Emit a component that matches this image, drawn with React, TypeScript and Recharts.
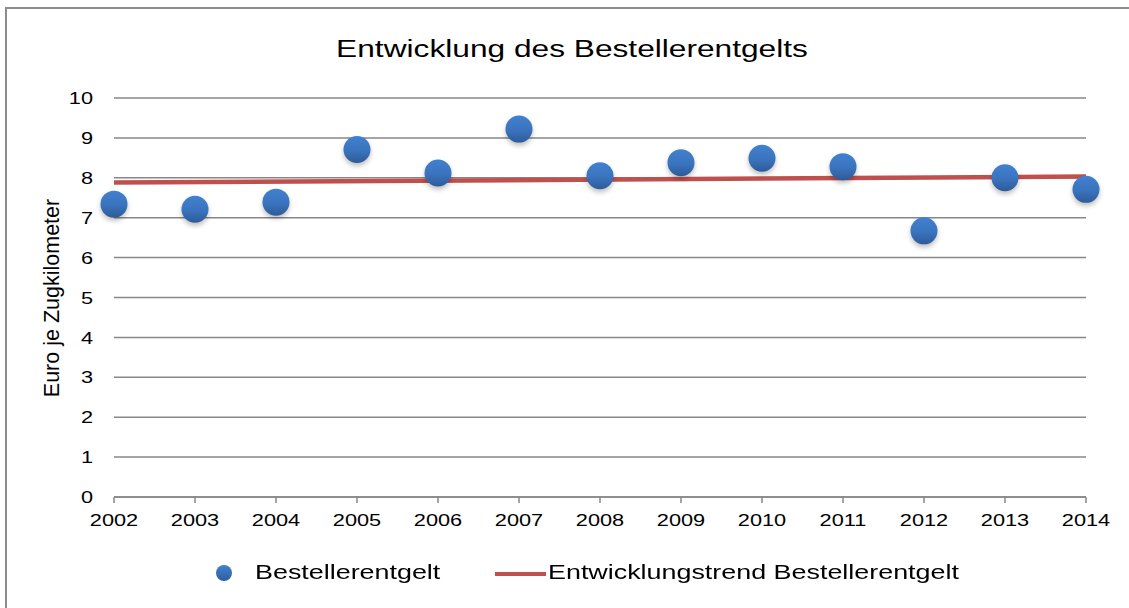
import { ComposedChart, Scatter, Line, XAxis, YAxis, CartesianGrid, Legend } from 'recharts';

const years = [2002, 2003, 2004, 2005, 2006, 2007, 2008, 2009, 2010, 2011, 2012, 2013, 2014];
const entgelt = [7.34, 7.21, 7.39, 8.71, 8.12, 9.22, 8.05, 8.38, 8.49, 8.28, 6.67, 8.0, 7.71];
const trendYears = [2002, 2014];
const trendValues = [7.88, 8.03];
const yTicks = [0, 1, 2, 3, 4, 5, 6, 7, 8, 9, 10];

const title = 'Entwicklung des Bestellerentgelts';
const yLabel = 'Euro je Zugkilometer';
const seriesName = 'Bestellerentgelt';
const trendName = 'Entwicklungstrend Bestellerentgelt';

const pointData = years.map((year, i) => ({ year, v: entgelt[i] }));
const trendData = trendYears.map((year, i) => ({ year, v: trendValues[i] }));

const GRID = '#878787';
const BLUE = '#3a73bd';
const RED = '#c0504d';
const FONT = '"Liberation Sans", Arial, sans-serif';
const STRETCH = 1.28;

// the reference is squeezed horizontally, so the texts are stretched a bit
const XTick = ({ x, y, payload }: any) => (
    <text
        transform={`translate(${x} ${y}) scale(${STRETCH} 1)`}
        textAnchor="middle"
        dy="0.71em"
        fontSize={17}
        fontFamily={FONT}
        fill="#000"
    >
        {payload.value}
    </text>
);

const YTick = ({ x, y, payload }: any) => (
    <text
        transform={`translate(${x} ${y}) scale(${STRETCH} 1)`}
        textAnchor="end"
        dy="0.36em"
        fontSize={17}
        fontFamily={FONT}
        fill="#000"
    >
        {payload.value}
    </text>
);

const Ball = ({ cx, cy }: any) => {
    if (cx == null || cy == null) return null;
    return (
        <g>
            <circle cx={cx} cy={cy + 3} r={13.5} fill="#000" opacity={0.25} filter="url(#ballShadow)" />
            <circle cx={cx} cy={cy} r={13.5} fill="url(#ballFill)" />
        </g>
    );
};

const LegendContent = () => (
    <div style={{ position: 'relative', height: 30, fontFamily: FONT, fontSize: 21, color: '#000' }}>
        <svg width={20} height={20} style={{ position: 'absolute', left: 214, top: 7 }}>
            <circle cx={10} cy={10} r={8} fill="url(#ballFillLegend)" />
            <defs>
                <linearGradient id="ballFillLegend" x1="0" y1="0" x2="0" y2="1">
                    <stop offset="0%" stopColor="#4181d0" />
                    <stop offset="100%" stopColor="#2f5e9c" />
                </linearGradient>
            </defs>
        </svg>
        <span style={{ position: 'absolute', left: 255, top: 4, whiteSpace: 'nowrap', transform: `scaleX(${STRETCH})`, transformOrigin: 'left center' }}>
            {seriesName}
        </span>
        <div style={{ position: 'absolute', left: 495, top: 16, width: 51, height: 4, background: RED }} />
        <span style={{ position: 'absolute', left: 548, top: 4, whiteSpace: 'nowrap', transform: `scaleX(${STRETCH})`, transformOrigin: 'left center' }}>
            {trendName}
        </span>
    </div>
);

export default function App() {
    return (
        <div style={{ position: 'absolute', left: 0, top: 0, width: 1129, height: 608, background: '#fff', overflow: 'hidden' }}>
            {/* frame: only top and left edges are inside the picture */}
            <div style={{ position: 'absolute', left: 5, top: 7, width: 1124, height: 601, borderLeft: '2px solid #8c8c8c', borderTop: '2px solid #8c8c8c' }} />

            <ComposedChart
                width={1129}
                height={608}
                margin={{ top: 98, right: 43, bottom: 41, left: 0 }}
                style={{ position: 'absolute', left: 0, top: 0 }}
            >
                <defs>
                    <linearGradient id="ballFill" x1="0" y1="0" x2="0" y2="1">
                        <stop offset="0%" stopColor="#4181d0" />
                        <stop offset="55%" stopColor={BLUE} />
                        <stop offset="100%" stopColor="#2d5b98" />
                    </linearGradient>
                    <filter id="ballShadow" x="-50%" y="-50%" width="200%" height="200%">
                        <feGaussianBlur stdDeviation="2.5" />
                    </filter>
                </defs>
                <CartesianGrid vertical={false} stroke={GRID} strokeWidth={1.5} />
                <XAxis
                    type="number"
                    dataKey="year"
                    domain={[2002, 2014]}
                    ticks={years}
                    height={40}
                    stroke={GRID}
                    strokeWidth={1.5}
                    tickSize={6}
                    tickMargin={11}
                    tick={<XTick />}
                    interval={0}
                />
                <YAxis
                    type="number"
                    domain={[0, 10]}
                    ticks={yTicks}
                    width={114}
                    axisLine={false}
                    tickLine={false}
                    tickSize={0}
                    tickMargin={21}
                    tick={<YTick />}
                    interval={0}
                />
                <Line
                    data={trendData}
                    dataKey="v"
                    name={trendName}
                    stroke={RED}
                    strokeWidth={4.5}
                    dot={false}
                    activeDot={false}
                    isAnimationActive={false}
                />
                <Scatter
                    data={pointData}
                    dataKey="v"
                    name={seriesName}
                    shape={<Ball />}
                    isAnimationActive={false}
                />
                <Legend
                    content={<LegendContent />}
                    wrapperStyle={{ position: 'absolute', left: 0, top: 556, width: 1129, height: 30 }}
                />
            </ComposedChart>

            <svg width={1129} height={608} style={{ position: 'absolute', left: 0, top: 0, pointerEvents: 'none' }}>
                <text
                    transform="translate(572 57) scale(1.32 1)"
                    textAnchor="middle"
                    fontSize={24}
                    fontFamily={FONT}
                    fill="#000"
                >
                    {title}
                </text>
                <text
                    transform="translate(59 298) rotate(-90)"
                    textAnchor="middle"
                    fontSize={21.5}
                    fontFamily={FONT}
                    fill="#000"
                >
                    {yLabel}
                </text>
            </svg>
        </div>
    );
}
